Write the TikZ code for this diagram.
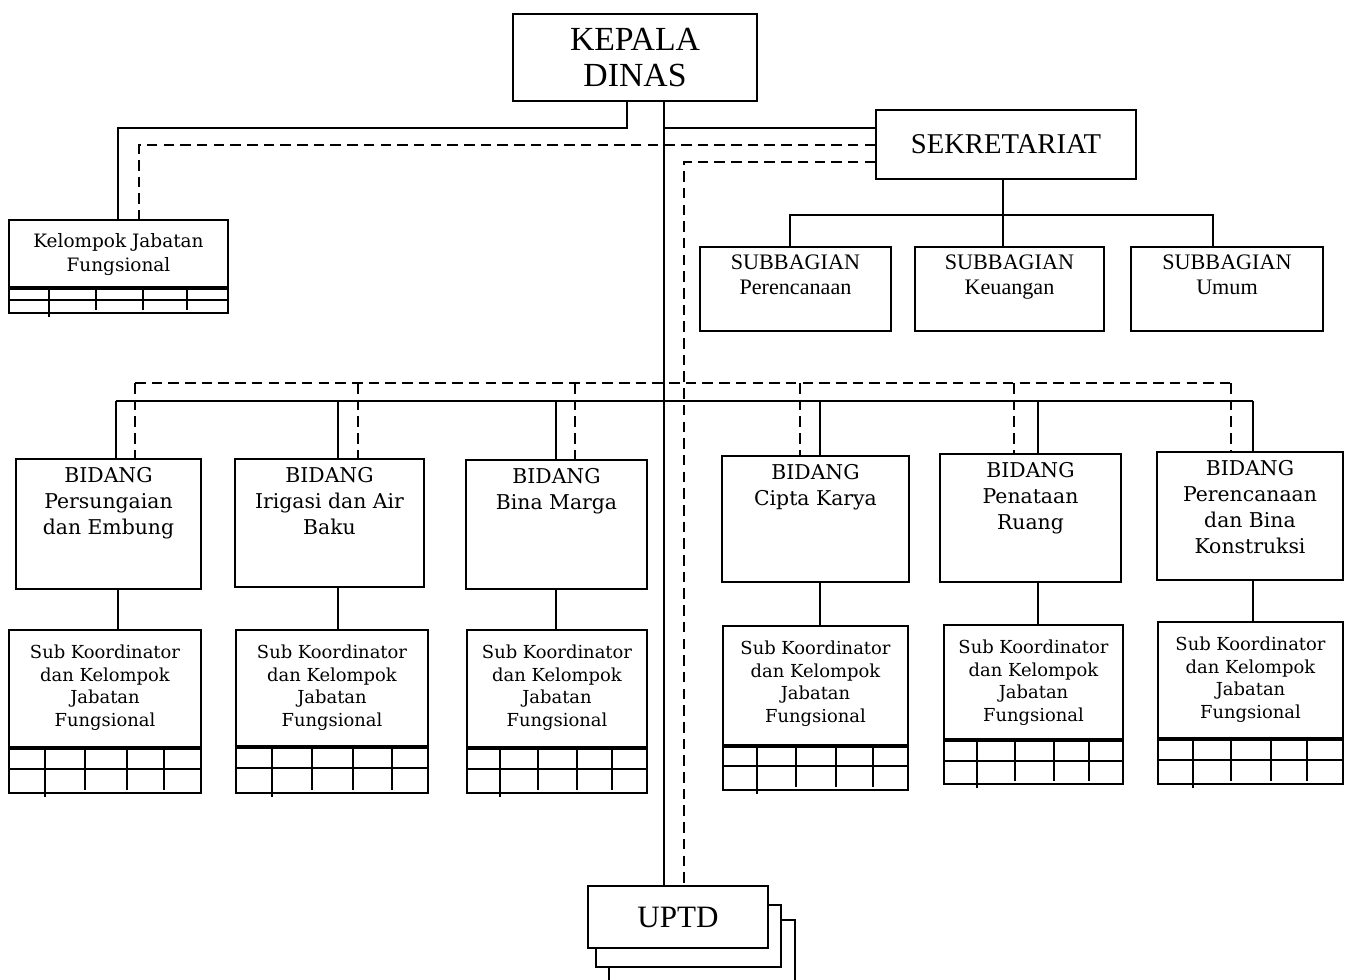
\documentclass[tikz,border=0pt]{standalone}
\usepackage{fontspec}
\setmainfont{Liberation Serif}
\newfontfamily\bookfont{DejaVu Serif}
\usetikzlibrary{fit, positioning}

\begin{document}
\begin{tikzpicture}[x=0.02cm, y=-0.02cm, line join=miter,
    box/.style={draw, line width=1pt, inner sep=0pt, fill=white},
    link/.style={line width=1pt},
    dlink/.style={line width=1pt, dash pattern=on 6pt off 3.5pt},
    tabline/.style={line width=1pt},
    sepline/.style={line width=1.8pt},
    bidtext/.style={anchor=north, align=center, inner sep=0pt, yshift=-0.18cm,
      font=\bookfont\fontsize{11.6}{14.7}\selectfont},
    subtext/.style={anchor=north, align=center, inner sep=0pt, yshift=-0.31cm,
      font=\bookfont\fontsize{10.2}{12.9}\selectfont},
    kjftext/.style={anchor=north, align=center, inner sep=0pt, yshift=-0.28cm,
      font=\bookfont\fontsize{10.5}{13.6}\selectfont},
    sbgtext/.style={anchor=north, align=center, inner sep=0pt, yshift=-0.17cm,
      font=\fontsize{12.6}{14.2}\selectfont}]
  \useasboundingbox (0,0) rectangle (1347,980);

  % pimpinan
  \node[box, fit={(513,14) (757,101)}] (kd) {};
  \node[align=center, inner sep=0pt, font=\fontsize{19.2}{21}\selectfont] (kdt) at (kd.center) {KEPALA\\DINAS};
  \node[box, fit={(876,110) (1136,179)}] (sek) {};
  \node[inner sep=0pt, font=\fontsize{16.3}{19}\selectfont] (sekt) at (sek.center) {SEKRETARIAT};

  % subbagian
  \node[box, fit={(700,247) (891,331)}] (sbp) {};
  \node[box, fit={(915,247) (1104,331)}] (sbk) {};
  \node[box, fit={(1131,247) (1323,331)}] (sbu) {};
  \node[sbgtext] (sbpt) at (sbp.north) {SUBBAGIAN\\Perencanaan};
  \node[sbgtext] (sbkt) at (sbk.north) {SUBBAGIAN\\Keuangan};
  \node[sbgtext] (sbut) at (sbu.north) {SUBBAGIAN\\Umum};

  % kelompok jabatan fungsional
  \node[box, fit={(9,220) (228,313)}] (kjf) {};
  \node[kjftext] (kjft) at (kjf.north) {Kelompok Jabatan\\Fungsional};

  % bidang
  \node[box, fit={(16,459) (201,589)}] (b1) {};
  \node[box, fit={(235,459) (424,587)}] (b2) {};
  \node[box, fit={(466,460) (647,589)}] (b3) {};
  \node[box, fit={(722,456) (909,582)}] (b4) {};
  \node[box, fit={(940,454) (1121,582)}] (b5) {};
  \node[box, fit={(1157,452) (1343,580)}] (b6) {};
  \node[bidtext] (b1t) at (b1.north) {BIDANG\\Persungaian\\dan Embung};
  \node[bidtext] (b2t) at (b2.north) {BIDANG\\Irigasi dan Air\\Baku};
  \node[bidtext] (b3t) at (b3.north) {BIDANG\\Bina Marga};
  \node[bidtext] (b4t) at (b4.north) {BIDANG\\Cipta Karya};
  \node[bidtext] (b5t) at (b5.north) {BIDANG\\Penataan\\Ruang};
  \node[bidtext] (b6t) at (b6.north) {BIDANG\\Perencanaan\\dan Bina\\Konstruksi};

  % sub koordinator
  \node[box, fit={(9,630) (201,793)}] (s1) {};
  \node[box, fit={(236,630) (428,793)}] (s2) {};
  \node[box, fit={(467,630) (647,793)}] (s3) {};
  \node[box, fit={(723,626) (908,790)}] (s4) {};
  \node[box, fit={(944,625) (1123,784)}] (s5) {};
  \node[box, fit={(1158,622) (1343,784)}] (s6) {};
  \foreach \n in {s1,s2,s3,s4,s5,s6}
    \node[subtext] (\n t) at (\n.north) {Sub Koordinator\\dan Kelompok\\Jabatan\\Fungsional};

  % tabel di bawah kotak
  \foreach \n/\yd/\yr/\ca/\cb/\cc/\cd in {kjf/288/300/49/96/143/187,
      s1/748/769/45/85/127/164, s2/747/768/272/312/353/392,
      s3/748/769/500/538/577/612, s4/746/766/757/796/836/873,
      s5/740/761/977/1015/1054/1089, s6/739/760/1193/1231/1271/1307} {
    \draw[sepline] (\n.west |- 0,\yd) -- (\n.east |- 0,\yd);
    \draw[tabline] (\n.west |- 0,\yr) -- (\n.east |- 0,\yr);
    \draw[tabline, shorten >=-1.7pt] (\ca,\yd) -- (\n.south -| \ca,0);
    \foreach \c in {\cb,\cc,\cd}
      \draw[tabline, shorten >=2.2pt] (\c,\yd) -- (\n.south -| \c,0);
  }

  % uptd
  \node[box, fit={(609,920) (795,995)}] (uptd3) {};
  \node[box, fit={(596,905) (781,967)}] (uptd2) {};
  \node[box, fit={(588,886) (768,948)}] (uptd) {};
  \node[inner sep=0pt, font=\fontsize{17.7}{20}\selectfont] (uptdt) at (uptd.center) {UPTD};

  % garis komando
  \draw[link] (kd.south -| 664,0) -- (uptd.north -| 664,0);
  \draw[link] (kd.south -| 627,0) |- (118,128) -- (kjf.north -| 118,0);
  \draw[link] (664,128) -- (sek.west |- 0,128);
  \draw[link] (sek.south -| 1003,0) -- (1003,215);
  \draw[link] (sbp.north -| 790,0) |- (1213,215) -- (sbu.north -| 1213,0);
  \draw[link] (1003,215) -- (sbk.north -| 1003,0);
  \draw[link] (116,401) -- (1253,401);

  % garis koordinasi
  \draw[dlink] (sek.west |- 0,145) -| (kjf.north -| 139,0);
  \draw[dlink] (sek.west |- 0,162) -| (uptd.north -| 684,0);
  \draw[dlink] (135,383) -- (1231,383);

  \foreach \n/\s/\d in {b1/116/135, b2/338/358, b3/556/575,
      b4/820/800, b5/1038/1014, b6/1253/1231} {
    \draw[link] (\s,401) -- (\n.north -| \s,0);
    \draw[dlink] (\d,383) -- (\n.north -| \d,0);
  }
  \foreach \n/\x in {1/118, 2/338, 3/556, 4/820, 5/1038, 6/1253}
    \draw[link] (b\n.south -| \x,0) -- (s\n.north -| \x,0);
\end{tikzpicture}
\end{document}
